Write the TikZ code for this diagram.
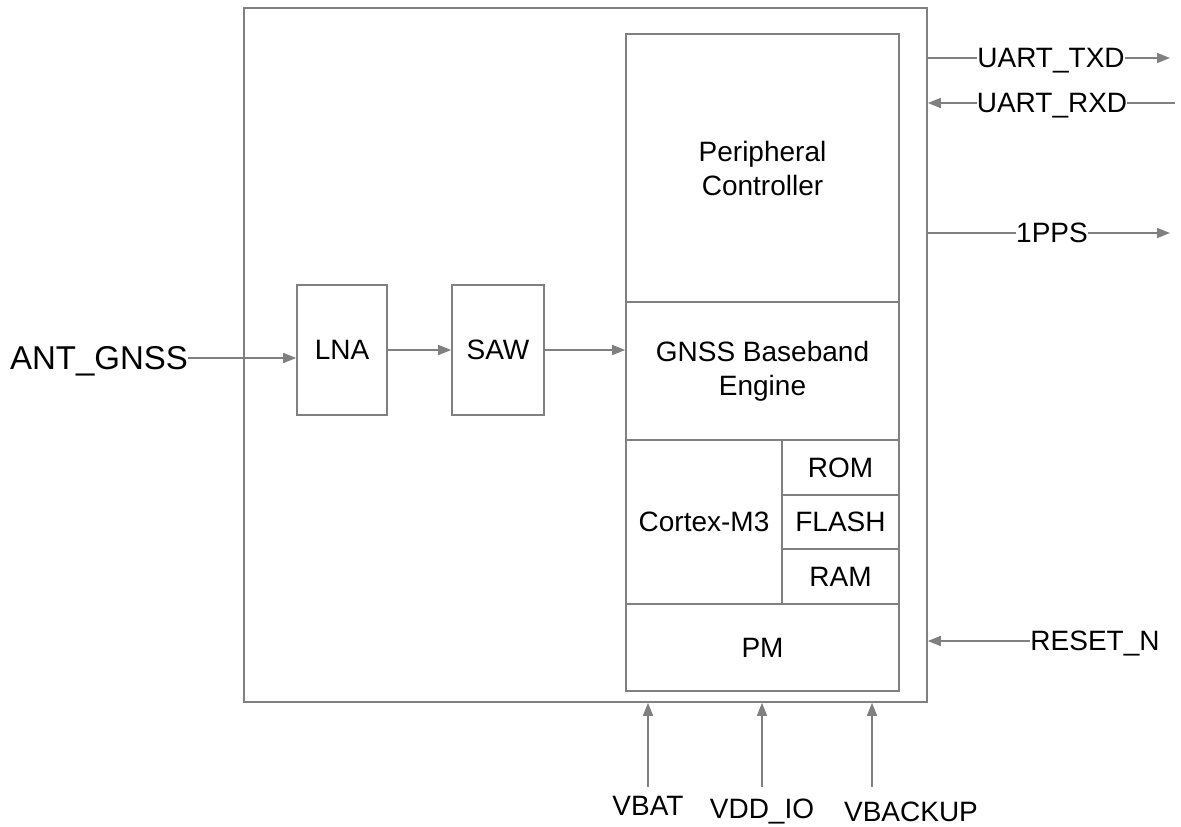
\documentclass[tikz,border=0pt]{standalone}
\usepackage{fontspec}
\setmainfont{Liberation Sans}
\usetikzlibrary{arrows.meta}
\definecolor{linegray}{RGB}{128,128,128}

\begin{document}
\begin{tikzpicture}[
x=1pt, y=-1pt,
box/.style={draw=linegray, line width=1.6pt, align=center, inner sep=0pt, font=\fontsize{28}{34}\selectfont},
sig/.style={inner sep=0pt, text depth=0pt, font=\fontsize{28}{34}\selectfont},
arrow/.style={-{Triangle[length=13pt,width=10pt]}, draw=linegray, line width=1.6pt},
wire/.style={draw=linegray, line width=1.6pt}
]
\useasboundingbox (0,0) rectangle (1181,827);
% module outline
\node[box, minimum width=683pt, minimum height=694pt] (module) at (585.5,355) {};
% RF chain
\node[box, minimum width=90pt, minimum height=130pt] (lna) at (342,350) {LNA};
\node[box, minimum width=92pt, minimum height=130pt] (saw) at (498,350) {SAW};
% chip column
\node[box, minimum width=273pt, minimum height=268pt] (periph) at (762.5,168) {Peripheral\\Controller};
\node[box, minimum width=273pt, minimum height=138pt] (base) at (762.5,371) {GNSS Baseband\\Engine};
\node[box, minimum width=156pt, minimum height=164pt] (cortex) at (704,522) {Cortex-M3};
\node[box, minimum width=117pt, minimum height=55pt] (rom) at (840.5,467.5) {ROM};
\node[box, minimum width=117pt, minimum height=54pt] (flash) at (840.5,522) {FLASH};
\node[box, minimum width=117pt, minimum height=55pt] (ram) at (840.5,576.5) {RAM};
\node[box, minimum width=273pt, minimum height=87pt] (pm) at (762.5,647.5) {PM};
% signal labels
\node[sig, font=\fontsize{33}{38}\selectfont] (ant) at (99,358) {ANT\_GNSS};
\node[sig] (txd) at (1051,58) {UART\_TXD};
\node[sig] (rxd) at (1052,103) {UART\_RXD};
\node[sig] (pps) at (1052,233) {1PPS};
\node[sig] (reset) at (1095,641) {RESET\_N};
\node[sig] (vbat) at (648,806) {VBAT};
\node[sig] (vddio) at (762,809) {VDD\_IO};
\node[sig] (vbackup) at (911,812) {VBACKUP};
\coordinate (txdend) at (1170,58);
\coordinate (rxdin) at (1175,103);
\coordinate (ppsend) at (1170,233);
\coordinate (vbatin) at (648,787);
\coordinate (vddioin) at (762,787);
\coordinate (vbackupin) at (872,787);
% connections
\draw[arrow] (ant.east) -- (ant.east -| lna.west);
\draw[arrow] (lna) -- (saw);
\draw[arrow] (saw) -- (saw -| base.west);
\draw[wire] (module.east |- txd) -- (txd.west);
\draw[arrow] (txd.east) -- (txdend);
\draw[wire] (rxdin) -- (rxd.east);
\draw[arrow] (rxd.west) -- (module.east |- rxd);
\draw[wire] (module.east |- pps) -- (pps.west);
\draw[arrow] (pps.east) -- (ppsend);
\draw[arrow] (reset.west) -- (module.east |- reset);
\draw[arrow] (vbatin) -- (vbatin |- module.south);
\draw[arrow] (vddioin) -- (vddioin |- module.south);
\draw[arrow] (vbackupin) -- (vbackupin |- module.south);
\end{tikzpicture}
\end{document}
